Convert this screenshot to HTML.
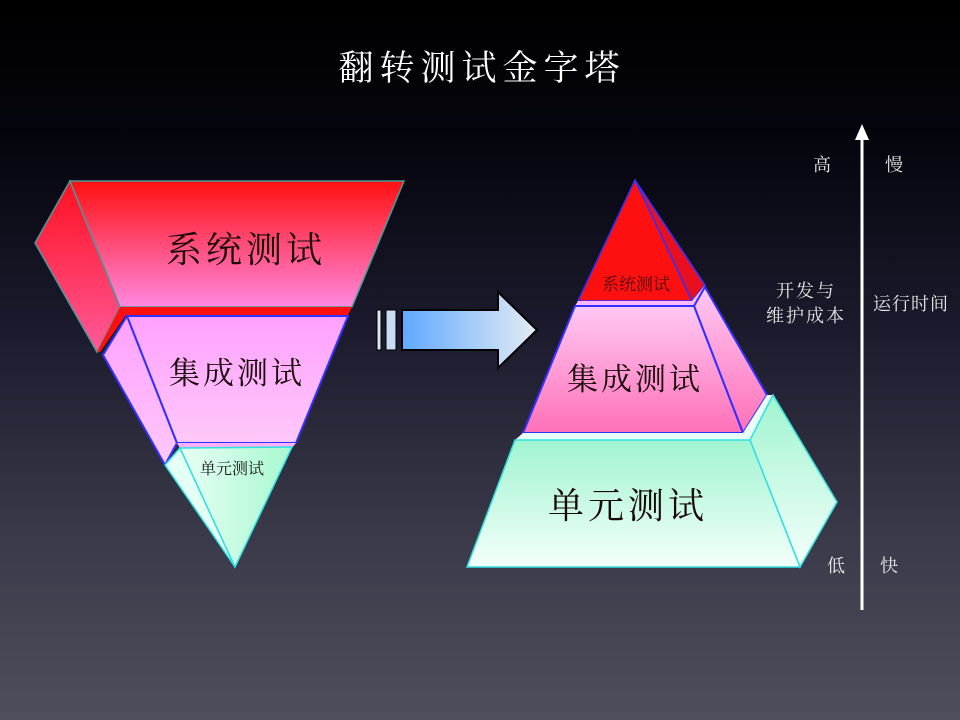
<!DOCTYPE html>
<html><head><meta charset="utf-8"><style>
html,body{margin:0;padding:0;width:960px;height:720px;overflow:hidden}
body{background:linear-gradient(#000 0%,#05050e 20%,#1a1a2c 45%,#3a3a4a 75%,#4e4e5c 100%)}
svg{position:absolute;left:0;top:0}
text{font-family:"Liberation Serif","Noto Serif CJK SC",serif}
</style></head><body>
<svg width="960" height="720" viewBox="0 0 960 720">
<defs>
<linearGradient id="red" x1="0" y1="0" x2="0" y2="1"><stop offset="0" stop-color="#ff1010"/><stop offset="1" stop-color="#ff88e0"/></linearGradient>
<linearGradient id="redS" x1="0" y1="0" x2="0" y2="1"><stop offset="0" stop-color="#ff1020"/><stop offset="1" stop-color="#ff5a9a"/></linearGradient>
<linearGradient id="pink" x1="0" y1="0" x2="0" y2="1"><stop offset="0" stop-color="#ffa0ff"/><stop offset="1" stop-color="#ffc8f8"/></linearGradient>
<linearGradient id="pink2" x1="0" y1="0" x2="0" y2="1"><stop offset="0" stop-color="#ffc8f4"/><stop offset="1" stop-color="#ff70b8"/></linearGradient>
<linearGradient id="green" x1="0" y1="0" x2="1" y2="0"><stop offset="0" stop-color="#e8fff4"/><stop offset="1" stop-color="#a8f8d0"/></linearGradient>
<linearGradient id="green2" x1="0" y1="0" x2="0" y2="1"><stop offset="0" stop-color="#a0f4d0"/><stop offset="1" stop-color="#f4fffa"/></linearGradient>
<linearGradient id="arr" x1="0" y1="0" x2="1" y2="0"><stop offset="0" stop-color="#60a8ff"/><stop offset="1" stop-color="#e4ecf4"/></linearGradient>
</defs>
<text x="482" y="80" fill="#fff" font-size="35" text-anchor="middle" letter-spacing="6">翻转测试金字塔</text>

<!-- inverted pyramid -->
<polygon points="70,181 35,243 97,352 120,307" fill="url(#redS)" stroke="#4a9a9a" stroke-width="1.5"/>
<polygon points="70,181 404,181 352,307 120,307" fill="url(#red)" stroke="#4a9a9a" stroke-width="1.5"/>
<polygon points="120,307 352,307 348,315 126,315 100,352 97,352" fill="#ff1010"/>
<polygon points="127,316 103,355 165,465 177,443" fill="url(#pink)" stroke="#3030ff" stroke-width="2"/>
<polygon points="127,316 348,316 296,443 177,443" fill="url(#pink)" stroke="#3030ff" stroke-width="2"/>
<polygon points="177,443 296,443 292,448 180,448" fill="#ffb0ff"/>
<polygon points="165,465 180,448 235,567" fill="#e4fff4" stroke="#30e0e0" stroke-width="1.5"/>
<polygon points="180,448 292,447 235,567" fill="url(#green)" stroke="#30e0e0" stroke-width="1.5"/>
<text x="246" y="262" font-size="36" fill="#1a0a0a" text-anchor="middle" letter-spacing="4">系统测试</text>
<text x="237" y="384" font-size="31" fill="#1a0a0a" text-anchor="middle" letter-spacing="3">集成测试</text>
<text x="232" y="474" font-size="16" fill="#1a1a1a" text-anchor="middle">单元测试</text>

<!-- arrow -->
<rect x="377" y="310" width="4" height="40" fill="#dde8f4" stroke="#000" stroke-width="1"/>
<rect x="386" y="310" width="10" height="40" fill="#c8dcf4" stroke="#000" stroke-width="1"/>
<polygon points="402,310 498,310 498,292 537,330 498,368 498,350 402,350" fill="url(#arr)" stroke="#000" stroke-width="2"/>

<!-- pyramid -->
<polygon points="635,180 705,285 692,301" fill="#e81020" stroke="#3030ff" stroke-width="1.5"/>
<polygon points="635,180 692,301 578,301" fill="#ff1010" stroke="#3030ff" stroke-width="1.5"/>
<polygon points="578,301 692,301 705,285 705,289 694,306 575,306" fill="#ffb8ff"/>
<polygon points="694,306 705,287 767,395 743,433" fill="url(#pink2)" stroke="#3030ff" stroke-width="2"/>
<polygon points="575,306 694,306 743,433 523,433" fill="url(#pink2)" stroke="#3030ff" stroke-width="2"/>
<polygon points="523,433 743,433 767,395 773,395 750,440 515,440" fill="#e8fff8"/>
<polygon points="750,440 773,395 837,502 800,567" fill="url(#green2)" stroke="#30e0e0" stroke-width="1.5"/>
<polygon points="515,440 750,440 800,567 467,567" fill="url(#green2)" stroke="#30e0e0" stroke-width="1.5"/>
<text x="636" y="290" font-size="17" fill="#4a0a0a" text-anchor="middle">系统测试</text>
<text x="635" y="390" font-size="31" fill="#1a0a0a" text-anchor="middle" letter-spacing="3">集成测试</text>
<text x="628" y="518" font-size="36" fill="#1a0a0a" text-anchor="middle" letter-spacing="4">单元测试</text>

<!-- axis -->
<line x1="862" y1="140" x2="862" y2="610" stroke="#fff" stroke-width="3"/>
<polygon points="862,124 855,140 869,140" fill="#fff"/>
<g fill="#e8e8e8" font-size="18">
<text x="822" y="171" text-anchor="middle">高</text>
<text x="894" y="171" text-anchor="middle">慢</text>
<text x="806" y="297" text-anchor="middle" letter-spacing="2">开发与</text>
<text x="806" y="322" text-anchor="middle" letter-spacing="2">维护成本</text>
<text x="911" y="310" text-anchor="middle" letter-spacing="1">运行时间</text>
<text x="836" y="572" text-anchor="middle">低</text>
<text x="889" y="572" text-anchor="middle">快</text>
</g>
</svg>
</body></html>
